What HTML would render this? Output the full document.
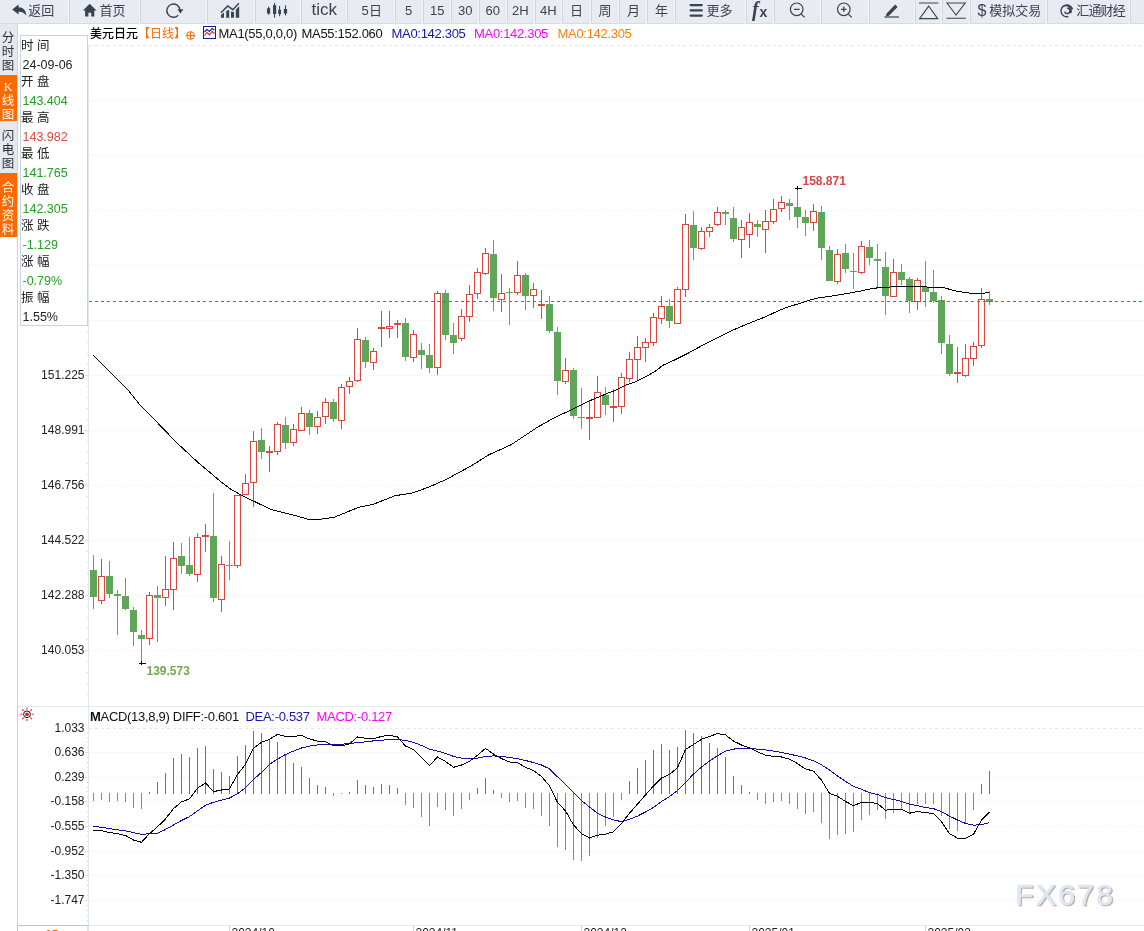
<!DOCTYPE html>
<html lang="zh"><head><meta charset="utf-8"><title>美元日元 日线</title>
<style>
html,body{margin:0;padding:0}
body{width:1144px;height:931px;position:relative;overflow:hidden;background:#fff;font-family:"Liberation Sans","Noto Sans CJK SC",sans-serif;color:#222}
#tb{position:absolute;left:0;top:0;width:1144px;height:23px;background:#e9ebf3;border-bottom:1px solid #d8dae3}
.t{position:absolute;top:0;height:23px;line-height:21px;color:#3a4350;white-space:nowrap}
.t.cn{font-size:13px}
.t.n{font-size:13px;line-height:22px}
.t.tk{font-size:17px;line-height:20px}
.t.fx1{font:italic bold 20px "Liberation Serif",serif;line-height:19px}
.t.fx2{font:bold 14px "Liberation Sans",sans-serif;line-height:25px}
.t.dl{font-size:16px;line-height:21px}
.sep{position:absolute;top:0;width:1px;height:23px;background:#d3d6df;box-shadow:-1px 0 0 #f2f3f8,-1px 1px 0 #f2f3f8}
#tabs div{position:absolute;left:0;width:17px;font-size:12.5px;line-height:14px;text-align:center;color:#2a2f3a;background:#e6e8ef;box-sizing:border-box;word-break:break-all;padding-left:1px;padding-right:2px}
#tabs div.on{background:#ff6a00;color:#fff}
#info{position:absolute;left:20px;top:35px;width:66px;height:289px;border:1px solid #c9d3df;background:#fff}
#info div{height:18px;line-height:18px;padding-left:0;white-space:nowrap}
#info .l{font-size:12.5px;color:#222;position:relative;top:1px}
#info .v{font-size:12.5px;padding-left:1.5px;position:relative;top:2px}
#info .g{color:#22a022} #info .r{color:#e0483f} #info .k{color:#222}
#ttl{position:absolute;left:0;top:25px;height:16px;width:700px;color:#111}
.q{position:absolute;top:0;height:16px;line-height:17px;font-size:12px;white-space:nowrap}
.q.e{font-size:13px;letter-spacing:-0.3px}
#mt{position:absolute;left:0;top:708px;height:16px;width:700px;color:#111}
svg text.ax{font:12px "Liberation Sans",sans-serif;text-anchor:end;fill:#222}
svg text.dt{font:12px "Liberation Sans",sans-serif;fill:#222}
svg text.hl{font:bold 12px "Liberation Sans",sans-serif}
svg text.wm{font:30px "Liberation Sans",sans-serif;letter-spacing:2.3px}
svg .grid{stroke:#e6e9ee;stroke-width:1;stroke-dasharray:1 2;shape-rendering:crispEdges}
</style></head><body>
<svg width="1144" height="931" viewBox="0 0 1144 931" style="position:absolute;left:0;top:0">
<line x1="89" y1="45.5" x2="1144" y2="45.5" stroke="#e3e8ee" stroke-width="1" stroke-dasharray="3 3" shape-rendering="crispEdges"/>
<line x1="89" y1="100.5" x2="1144" y2="100.5" class="grid"/>
<line x1="89" y1="155.5" x2="1144" y2="155.5" class="grid"/>
<line x1="89" y1="210.5" x2="1144" y2="210.5" class="grid"/>
<line x1="89" y1="265.5" x2="1144" y2="265.5" class="grid"/>
<line x1="89" y1="320.5" x2="1144" y2="320.5" class="grid"/>
<line x1="89" y1="375.5" x2="1144" y2="375.5" class="grid"/>
<line x1="89" y1="430.5" x2="1144" y2="430.5" class="grid"/>
<line x1="89" y1="485.5" x2="1144" y2="485.5" class="grid"/>
<line x1="89" y1="540.5" x2="1144" y2="540.5" class="grid"/>
<line x1="89" y1="595.5" x2="1144" y2="595.5" class="grid"/>
<line x1="89" y1="650.5" x2="1144" y2="650.5" class="grid"/>
<line x1="89" y1="728.5" x2="1144" y2="728.5" stroke="#e3e8ee" stroke-width="1" stroke-dasharray="3 3" shape-rendering="crispEdges"/>
<line x1="89" y1="752.5" x2="1144" y2="752.5" class="grid"/>
<line x1="89" y1="777.5" x2="1144" y2="777.5" class="grid"/>
<line x1="89" y1="801.5" x2="1144" y2="801.5" class="grid"/>
<line x1="89" y1="826.5" x2="1144" y2="826.5" class="grid"/>
<line x1="89" y1="851.5" x2="1144" y2="851.5" class="grid"/>
<line x1="89" y1="875.5" x2="1144" y2="875.5" class="grid"/>
<line x1="89" y1="900.5" x2="1144" y2="900.5" class="grid"/>
<line x1="17.5" y1="24" x2="17.5" y2="931" stroke="#cdd4df" stroke-width="1"/>
<line x1="88.5" y1="45" x2="88.5" y2="925" stroke="#e1e7ef" stroke-width="1"/>
<line x1="18" y1="706.5" x2="1144" y2="706.5" stroke="#e1e7ee" stroke-width="1"/>
<line x1="18" y1="925.5" x2="1144" y2="925.5" stroke="#e1e7ee" stroke-width="1"/>
<path d="M85 45.5H88M87 56.5H88M87 67.5H88M87 78.5H88M87 89.5H88M85 100.5H88M87 111.5H88M87 122.5H88M87 133.5H88M87 144.5H88M85 155.5H88M87 166.5H88M87 177.5H88M87 188.5H88M87 199.5H88M85 210.5H88M87 221.5H88M87 232.5H88M87 243.5H88M87 254.5H88M85 265.5H88M87 276.5H88M87 287.5H88M87 298.5H88M87 309.5H88M85 320.5H88M87 331.5H88M87 342.5H88M87 353.5H88M87 364.5H88M85 375.5H88M87 386.5H88M87 397.5H88M87 408.5H88M87 419.5H88M85 430.5H88M87 441.5H88M87 452.5H88M87 463.5H88M87 474.5H88M85 485.5H88M87 496.5H88M87 507.5H88M87 518.5H88M87 529.5H88M85 540.5H88M87 551.5H88M87 562.5H88M87 573.5H88M87 584.5H88M85 595.5H88M87 606.5H88M87 617.5H88M87 628.5H88M87 639.5H88M85 650.5H88M87 661.5H88M87 672.5H88M87 683.5H88M87 694.5H88M87 733.5H88M87 738.5H88M87 742.5H88M87 747.5H88M85 752.5H88M87 757.5H88M87 762.5H88M87 767.5H88M87 772.5H88M85 777.5H88M87 782.5H88M87 787.5H88M87 791.5H88M87 796.5H88M85 801.5H88M87 806.5H88M87 811.5H88M87 816.5H88M87 821.5H88M85 826.5H88M87 831.5H88M87 836.5H88M87 841.5H88M87 846.5H88M85 851.5H88M87 856.5H88M87 861.5H88M87 865.5H88M87 870.5H88M85 875.5H88M87 880.5H88M87 885.5H88M87 890.5H88M87 895.5H88M85 900.5H88M87 905.5H88M87 910.5H88M87 915.5H88M87 920.5H88" stroke="#d3dbe6" stroke-width="1" fill="none"/>
<line x1="229.5" y1="926" x2="229.5" y2="931" stroke="#cfd8e3" stroke-width="1"/>
<line x1="413.5" y1="926" x2="413.5" y2="931" stroke="#cfd8e3" stroke-width="1"/>
<line x1="581.5" y1="926" x2="581.5" y2="931" stroke="#cfd8e3" stroke-width="1"/>
<line x1="749.5" y1="926" x2="749.5" y2="931" stroke="#cfd8e3" stroke-width="1"/>
<line x1="925.5" y1="926" x2="925.5" y2="931" stroke="#cfd8e3" stroke-width="1"/>
<rect x="17.5" y="925.5" width="70.5" height="10" fill="#fff" stroke="#bcc7d6" stroke-width="1"/>
<g shape-rendering="crispEdges"><path d="M93.5 555V609M109.5 561V598M117.5 590V635M125.5 578V610M133.5 607V646M141.5 630V662M157.5 586V642M181.5 543V574M189.5 537V576M213.5 493V602M229.5 541V580M261.5 428V459M285.5 417V449M309.5 410V435M333.5 399V422M365.5 337V368M405.5 318V361M421.5 343V369M429.5 344V373M445.5 290V340M453.5 323V354M493.5 240V311M509.5 288V325M525.5 273V310M549.5 296V333M557.5 327V395M573.5 368V419M581.5 388V429M605.5 387V415M669.5 299V328M693.5 211V260M725.5 210V225M733.5 207V242M757.5 220V237M789.5 199V220M797.5 188V228M805.5 210V236M821.5 206V260M829.5 246V281M845.5 244V273M853.5 253V289M869.5 240V265M877.5 244V287M885.5 252V315M901.5 264V285M909.5 277V313M925.5 261V307M933.5 270V303M941.5 296V354M949.5 335V376M989.5 291V305" stroke="#5fa55a" stroke-width="1" fill="none"/><path d="M101.5 559V576M101.5 601V604M149.5 592V595M149.5 639V645M165.5 556V589M165.5 598V606M173.5 542V558M173.5 590V610M197.5 533V537M197.5 575V582M205.5 524V535M205.5 537V552M221.5 556V564M221.5 600V612M237.5 566V568M245.5 474V483M253.5 431V441M253.5 483V507M269.5 446V451M269.5 453V472M277.5 422V424M277.5 452V455M293.5 424V429M293.5 443V446M301.5 407V413M317.5 411V417M317.5 427V434M325.5 398V402M325.5 417V424M341.5 384V387M341.5 421V429M349.5 377V381M349.5 387V394M357.5 328V339M357.5 381V382M373.5 348V351M373.5 363V370M381.5 311V327M381.5 329V347M389.5 311V326M389.5 329V338M397.5 320V323M397.5 325V338M413.5 330V334M413.5 358V362M437.5 291V293M437.5 368V375M461.5 309V316M461.5 339V341M469.5 285V294M469.5 317V322M477.5 268V272M477.5 294V299M485.5 248V253M485.5 274V275M501.5 274V293M501.5 300V312M517.5 261V275M517.5 293V295M533.5 283V289M533.5 296V308M541.5 290V304M541.5 306V319M565.5 358V370M565.5 382V384M589.5 400V417M589.5 419V440M597.5 376V392M613.5 389V406M613.5 408V422M621.5 373V377M621.5 407V414M629.5 352V359M629.5 379V382M637.5 336V347M637.5 360V381M645.5 338V342M645.5 348V362M653.5 313V317M653.5 343V346M661.5 296V306M661.5 319V324M677.5 287V289M685.5 214V224M685.5 290V297M701.5 227V231M701.5 249V250M709.5 224V227M709.5 232V237M717.5 207V212M717.5 225V226M741.5 220V227M741.5 240V258M749.5 213V222M749.5 235V248M765.5 210V221M765.5 230V253M773.5 199V209M773.5 222V224M781.5 196V202M781.5 209V212M813.5 204V211M813.5 223V231M837.5 249V254M837.5 282V284M861.5 241V246M861.5 273V274M893.5 259V272M917.5 278V280M917.5 302V310M957.5 347V372M957.5 374V383M965.5 344V358M965.5 376V377M973.5 342V346M973.5 359V366M981.5 288V299M981.5 346V348" stroke="#d9463f" stroke-width="1" fill="none"/>
<g fill="#5fa55a"><rect x="90.0" y="570" width="7" height="27"/><rect x="106.0" y="576" width="7" height="18"/><rect x="114.0" y="594" width="7" height="2"/><rect x="122.0" y="596" width="7" height="13"/><rect x="130.0" y="610" width="7" height="22"/><rect x="138.0" y="635" width="7" height="4"/><rect x="154.0" y="595" width="7" height="3"/><rect x="178.0" y="556" width="7" height="10"/><rect x="186.0" y="565" width="7" height="9"/><rect x="210.0" y="536" width="7" height="62"/><rect x="226.0" y="565" width="7" height="1"/><rect x="258.0" y="440" width="7" height="12"/><rect x="282.0" y="425" width="7" height="18"/><rect x="306.0" y="413" width="7" height="14"/><rect x="330.0" y="402" width="7" height="17"/><rect x="362.0" y="340" width="7" height="22"/><rect x="402.0" y="323" width="7" height="34"/><rect x="418.0" y="350" width="7" height="5"/><rect x="426.0" y="355" width="7" height="13"/><rect x="442.0" y="293" width="7" height="42"/><rect x="450.0" y="335" width="7" height="8"/><rect x="490.0" y="254" width="7" height="44"/><rect x="506.0" y="292" width="7" height="1"/><rect x="522.0" y="275" width="7" height="21"/><rect x="546.0" y="304" width="7" height="27"/><rect x="554.0" y="332" width="7" height="49"/><rect x="570.0" y="370" width="7" height="46"/><rect x="578.0" y="417" width="7" height="1"/><rect x="602.0" y="395" width="7" height="10"/><rect x="666.0" y="306" width="7" height="15"/><rect x="690.0" y="225" width="7" height="23"/><rect x="722.0" y="212" width="7" height="2"/><rect x="730.0" y="218" width="7" height="21"/><rect x="754.0" y="224" width="7" height="3"/><rect x="786.0" y="203" width="7" height="3"/><rect x="794.0" y="207" width="7" height="10"/><rect x="802.0" y="217" width="7" height="6"/><rect x="818.0" y="212" width="7" height="36"/><rect x="826.0" y="250" width="7" height="31"/><rect x="842.0" y="253" width="7" height="16"/><rect x="850.0" y="271" width="7" height="1"/><rect x="866.0" y="247" width="7" height="11"/><rect x="874.0" y="259" width="7" height="2"/><rect x="882.0" y="267" width="7" height="29"/><rect x="898.0" y="272" width="7" height="8"/><rect x="906.0" y="279" width="7" height="22"/><rect x="922.0" y="287" width="7" height="5"/><rect x="930.0" y="292" width="7" height="9"/><rect x="938.0" y="300" width="7" height="43"/><rect x="946.0" y="344" width="7" height="30"/><rect x="986.0" y="299" width="7" height="3"/></g><g fill="#fff" stroke="#d9463f" stroke-width="1"><rect x="98.5" y="576.5" width="6" height="24"/><rect x="146.5" y="595.5" width="6" height="43"/><rect x="162.5" y="589.5" width="6" height="8"/><rect x="170.5" y="558.5" width="6" height="31"/><rect x="194.5" y="537.5" width="6" height="37"/><rect x="202.0" y="535" width="7" height="2" fill="#d9463f" stroke="none"/><rect x="218.5" y="564.5" width="6" height="35"/><rect x="234.5" y="495.5" width="6" height="70"/><rect x="242.5" y="483.5" width="6" height="11"/><rect x="250.5" y="441.5" width="6" height="41"/><rect x="266.0" y="451" width="7" height="2" fill="#d9463f" stroke="none"/><rect x="274.5" y="424.5" width="6" height="27"/><rect x="290.5" y="429.5" width="6" height="13"/><rect x="298.5" y="413.5" width="6" height="17"/><rect x="314.5" y="417.5" width="6" height="9"/><rect x="322.5" y="402.5" width="6" height="14"/><rect x="338.5" y="387.5" width="6" height="33"/><rect x="346.5" y="381.5" width="6" height="5"/><rect x="354.5" y="339.5" width="6" height="41"/><rect x="370.5" y="351.5" width="6" height="11"/><rect x="378.0" y="327" width="7" height="2" fill="#d9463f" stroke="none"/><rect x="386.5" y="326.5" width="6" height="2"/><rect x="394.0" y="323" width="7" height="2" fill="#d9463f" stroke="none"/><rect x="410.5" y="334.5" width="6" height="23"/><rect x="434.5" y="293.5" width="6" height="74"/><rect x="458.5" y="316.5" width="6" height="22"/><rect x="466.5" y="294.5" width="6" height="22"/><rect x="474.5" y="272.5" width="6" height="21"/><rect x="482.5" y="253.5" width="6" height="20"/><rect x="498.5" y="293.5" width="6" height="6"/><rect x="514.5" y="275.5" width="6" height="17"/><rect x="530.5" y="289.5" width="6" height="6"/><rect x="538.0" y="304" width="7" height="2" fill="#d9463f" stroke="none"/><rect x="562.5" y="370.5" width="6" height="11"/><rect x="586.0" y="417" width="7" height="2" fill="#d9463f" stroke="none"/><rect x="594.5" y="392.5" width="6" height="25"/><rect x="610.0" y="406" width="7" height="2" fill="#d9463f" stroke="none"/><rect x="618.5" y="377.5" width="6" height="29"/><rect x="626.5" y="359.5" width="6" height="19"/><rect x="634.5" y="347.5" width="6" height="12"/><rect x="642.5" y="342.5" width="6" height="5"/><rect x="650.5" y="317.5" width="6" height="25"/><rect x="658.5" y="306.5" width="6" height="12"/><rect x="674.5" y="289.5" width="6" height="34"/><rect x="682.5" y="224.5" width="6" height="65"/><rect x="698.5" y="231.5" width="6" height="17"/><rect x="706.5" y="227.5" width="6" height="4"/><rect x="714.5" y="212.5" width="6" height="12"/><rect x="738.5" y="227.5" width="6" height="12"/><rect x="746.5" y="222.5" width="6" height="12"/><rect x="762.5" y="221.5" width="6" height="8"/><rect x="770.5" y="209.5" width="6" height="12"/><rect x="778.5" y="202.5" width="6" height="6"/><rect x="810.5" y="211.5" width="6" height="11"/><rect x="834.5" y="254.5" width="6" height="27"/><rect x="858.5" y="246.5" width="6" height="26"/><rect x="890.5" y="272.5" width="6" height="24"/><rect x="914.5" y="280.5" width="6" height="21"/><rect x="954.0" y="372" width="7" height="2" fill="#d9463f" stroke="none"/><rect x="962.5" y="358.5" width="6" height="17"/><rect x="970.5" y="346.5" width="6" height="12"/><rect x="978.5" y="299.5" width="6" height="46"/></g></g>
<line x1="89" y1="301.5" x2="1144" y2="301.5" stroke="#0a84ff" stroke-width="1" stroke-dasharray="3 3" shape-rendering="crispEdges"/>
<polyline points="93.0,354.7 108.1,370.1 128.2,390.2 140.3,405.3 153.3,418.4 176.5,442.5 198.6,463.0 208.6,471.3 220.7,481.7 230.7,489.2 240.8,494.8 252.9,500.8 271.0,509.5 289.0,513.9 309.2,519.5 320.9,519.1 334.0,517.4 358.1,507.5 373.4,504.2 395.2,495.7 412.7,492.9 428.0,487.4 445.5,479.8 471.7,465.6 489.2,454.6 511.0,444.8 537.3,427.3 550.0,420.2 560.0,414.9 571.0,410.2 590.3,400.5 609.7,392.4 614.5,390.8 625.8,385.2 637.1,381.1 646.8,376.3 654.8,371.5 662.9,365.3 675.8,359.4 688.7,352.9 700.0,346.7 716.1,338.5 732.2,330.4 748.3,323.6 764.5,317.2 780.6,309.8 790.2,306.2 799.9,303.5 808.0,300.5 819.2,297.7 828.9,296.5 841.8,294.4 860.0,291.2 870.8,288.8 883.0,287.1 911.6,286.7 942.2,287.3 956.5,291.2 970.8,293.3 983.0,293.5 989.4,292.2" fill="none" stroke="#000" stroke-width="1" shape-rendering="crispEdges"/>
<path d="M795 188.5H802M797.5 186V190" stroke="#000" stroke-width="1" fill="none" shape-rendering="crispEdges"/>
<path d="M139 663.5H146M141.5 661V665" stroke="#000" stroke-width="1" fill="none" shape-rendering="crispEdges"/>
<text x="802.5" y="185" class="hl" fill="#dc4446">158.871</text>
<text x="146.5" y="675" class="hl" fill="#74a750">139.573</text>
<g shape-rendering="crispEdges"><path d="M93.5 793V801M101.5 793V800M109.5 793V802M117.5 793V801M125.5 793V802M133.5 793V808M141.5 793V809M333.5 793V796M341.5 793V794M405.5 793V805M413.5 793V808M421.5 793V817M429.5 793V826M437.5 793V807M445.5 793V810M453.5 793V816M461.5 793V809M469.5 793V800M501.5 793V798M509.5 793V802M517.5 793V801M525.5 793V808M533.5 793V809M541.5 793V816M549.5 793V826M557.5 793V847M565.5 793V850M573.5 793V860M581.5 793V861M589.5 793V856M597.5 793V838M605.5 793V826M613.5 793V817M621.5 793V800M757.5 793V800M765.5 793V804M773.5 793V802M781.5 793V801M789.5 793V804M797.5 793V809M805.5 793V814M813.5 793V812M821.5 793V823M829.5 793V839M837.5 793V835M845.5 793V834M853.5 793V832M861.5 793V820M869.5 793V815M877.5 793V810M885.5 793V819M893.5 793V813M901.5 793V809M909.5 793V813M917.5 793V804M925.5 793V804M933.5 793V804M941.5 793V816M949.5 793V829M957.5 793V831M965.5 793V823M973.5 793V810" stroke="#5fa55a" stroke-width="1" fill="none"/><path d="M149.5 792V794M157.5 782V794M165.5 773V794M173.5 758V794M181.5 754V794M189.5 757V794M197.5 748V794M205.5 746V794M213.5 769V794M221.5 772V794M229.5 776V794M237.5 756V794M245.5 745V794M253.5 731V794M261.5 733V794M269.5 739V794M277.5 742V794M285.5 755V794M293.5 763V794M301.5 767V794M309.5 778V794M317.5 785V794M325.5 787V794M349.5 792V794M357.5 780V794M365.5 785V794M373.5 787V794M381.5 784V794M389.5 785V794M397.5 788V794M477.5 788V794M485.5 778V794M493.5 790V794M629.5 781V794M637.5 768V794M645.5 760V794M653.5 750V794M661.5 744V794M669.5 750V794M677.5 747V794M685.5 730V794M693.5 733V794M701.5 736V794M709.5 743V794M717.5 748V794M725.5 757V794M733.5 776V794M741.5 785V794M749.5 792V794M981.5 784V794M989.5 771V794" stroke="#d9463f" stroke-width="1" fill="none"/></g>
<polyline points="93.5,826.1 109.5,828.6 125.5,830.9 141.5,834.3 157.5,833.2 165.5,829.5 181.5,820.5 189.5,816.6 205.5,805.2 213.5,802.3 229.5,798.0 237.5,793.9 245.5,787.7 253.5,779.5 261.5,772.3 269.5,764.3 277.5,759.1 285.5,754.5 293.5,751.1 301.5,748.0 309.5,746.1 317.5,745.0 325.5,744.3 333.5,744.1 341.5,744.3 357.5,742.7 373.5,740.9 389.5,739.5 397.5,739.5 405.5,740.5 413.5,742.3 421.5,745.5 429.5,749.1 437.5,751.1 445.5,753.4 453.5,756.4 461.5,758.2 469.5,758.6 477.5,758.2 485.5,756.4 493.5,755.9 501.5,756.4 509.5,757.5 517.5,758.6 525.5,760.5 533.5,762.5 541.5,765.0 549.5,768.9 557.5,776.8 565.5,784.8 573.5,792.7 581.5,800.7 589.5,807.0 597.5,813.2 605.5,817.0 613.5,820.0 621.5,821.6 629.5,819.3 637.5,816.1 645.5,812.0 653.5,807.5 661.5,801.4 669.5,796.6 677.5,790.5 685.5,782.5 693.5,774.1 701.5,767.0 709.5,760.9 717.5,755.7 725.5,751.1 733.5,749.1 741.5,748.4 749.5,748.4 757.5,749.1 765.5,750.0 773.5,751.1 781.5,752.5 789.5,754.1 797.5,755.9 805.5,758.0 813.5,760.9 821.5,764.8 829.5,770.0 837.5,776.0 845.5,781.4 853.5,786.4 861.5,789.3 869.5,792.7 877.5,794.5 885.5,797.7 893.5,799.5 901.5,801.4 909.5,804.1 917.5,805.7 925.5,807.5 933.5,808.6 941.5,811.6 949.5,816.1 957.5,820.0 965.5,823.4 973.5,825.2 981.5,824.5 989.5,822.7" fill="none" stroke="#1010a8" stroke-width="1" shape-rendering="crispEdges"/>
<polyline points="93.5,830.2 101.5,830.7 109.5,832.5 117.5,833.6 125.5,835.5 133.5,840.0 141.5,842.3 149.5,833.6 157.5,826.8 165.5,818.9 173.5,808.6 181.5,801.8 189.5,798.9 197.5,788.2 205.5,783.0 213.5,791.6 221.5,790.0 229.5,788.9 237.5,774.5 245.5,764.3 253.5,748.4 261.5,742.3 269.5,739.3 277.5,734.3 285.5,736.4 293.5,736.4 301.5,735.5 309.5,738.9 317.5,741.1 325.5,741.6 333.5,745.7 341.5,745.7 349.5,743.9 357.5,737.0 365.5,738.2 373.5,738.9 381.5,736.4 389.5,735.2 397.5,737.0 405.5,746.1 413.5,749.5 421.5,757.5 429.5,765.5 437.5,757.0 445.5,761.4 453.5,767.3 461.5,765.0 469.5,761.4 477.5,755.2 485.5,748.4 493.5,754.1 501.5,758.6 509.5,762.0 517.5,762.7 525.5,767.3 533.5,770.5 541.5,776.4 549.5,785.9 557.5,802.5 565.5,810.9 573.5,825.0 581.5,833.6 589.5,838.0 597.5,835.2 605.5,834.1 613.5,831.8 621.5,823.4 629.5,813.2 637.5,804.1 645.5,795.0 653.5,785.9 661.5,778.0 669.5,774.5 677.5,767.7 685.5,749.5 693.5,744.5 701.5,739.3 709.5,736.4 717.5,733.6 725.5,734.8 733.5,741.1 741.5,745.0 749.5,748.0 757.5,751.8 765.5,755.2 773.5,756.4 781.5,757.0 789.5,759.1 797.5,763.6 805.5,768.9 813.5,771.1 821.5,780.2 829.5,793.4 837.5,796.3 845.5,801.4 853.5,805.7 861.5,802.3 869.5,802.3 877.5,803.6 885.5,810.2 893.5,809.3 901.5,809.3 909.5,813.2 917.5,811.6 925.5,812.5 933.5,813.6 941.5,821.6 949.5,833.6 957.5,838.2 965.5,838.2 973.5,834.3 981.5,820.0 989.5,812.0" fill="none" stroke="#000" stroke-width="1" shape-rendering="crispEdges"/>
<text x="84.5" y="379.3" class="ax">151.225</text>
<text x="84.5" y="434.3" class="ax">148.991</text>
<text x="84.5" y="489.3" class="ax">146.756</text>
<text x="84.5" y="544.3" class="ax">144.522</text>
<text x="84.5" y="599.3" class="ax">142.288</text>
<text x="84.5" y="654.3" class="ax">140.053</text>
<text x="84.5" y="732.3" class="ax">1.033</text>
<text x="84.5" y="756.3" class="ax">0.636</text>
<text x="84.5" y="781.3" class="ax">0.239</text>
<text x="84.5" y="805.3" class="ax">-0.158</text>
<text x="84.5" y="830.3" class="ax">-0.555</text>
<text x="84.5" y="855.3" class="ax">-0.952</text>
<text x="84.5" y="879.3" class="ax">-1.350</text>
<text x="84.5" y="904.3" class="ax">-1.747</text>
<text x="231.5" y="936.5" class="dt">2024/10</text>
<text x="415.5" y="936.5" class="dt">2024/11</text>
<text x="583.5" y="936.5" class="dt">2024/12</text>
<text x="751.5" y="936.5" class="dt">2025/01</text>
<text x="927.5" y="936.5" class="dt">2025/02</text>
<text x="45" y="939" style="font:bold 12px 'Liberation Sans',sans-serif" fill="#f60">15</text>
<g fill="none"><circle cx="27" cy="714.3" r="3.4" stroke="#111" stroke-width="1"/><circle cx="27" cy="714.3" r="1.9" fill="#f01818"/><path d="M27 707.6v2M27 719v2M20.3 714.3h2M31.7 714.3h2M22.1 709.4l1.5 1.5M30.4 717.7l1.5 1.5M22.1 719.2l1.5-1.5M30.4 710.9l1.5-1.5" stroke="#f01818" stroke-width="1.1"/></g>
<text x="1015.3" y="904.8" class="wm" fill="#c0a594" stroke="#c0a594" stroke-width="0.5" transform="translate(1.3,1.3)">FX678</text>
<text x="1015.3" y="904.8" class="wm" fill="#dce8f6" stroke="#dce8f6" stroke-width="0.7">FX678</text>
</svg>
<div id="tb">
<svg width="1144" height="24" viewBox="0 0 1144 24" style="position:absolute;left:0;top:0">
<g fill="#3a4350" stroke="none">
<path d="M12.2 9.5L18.6 4.5V7.3C23 7.3 26.2 10.2 26.2 15.8C24.6 12.8 22.4 11.7 18.6 11.7V14.5Z"/>
<path d="M89.7 3.7L82.9 10.5H85.1V16.5H88.4V12.7H91.2V16.5H94.3V10.5H96.5Z"/>
<path d="M177.4 9.2H183.4L180.4 13.4Z"/>
<path d="M221 14.8L224 12.4V17.8H221ZM226.2 10.9L229.2 9.7V17.8H226.2ZM231 11.6L234 11.9V17.8H231ZM235.8 9.7L239.2 6.2V17.8H235.8Z"/>
<path d="M267 8.2h3.2v5.2H267zM273 5.2h3.2v8.9H273zM278.2 9.7h2.8v4.4h-2.8zM283.8 8.9h3.3v4.5h-3.3z"/>
<path d="M886.6 13.6L895.2 4.6L897.6 6.9L889 15.8L885.8 16.4Z"/>
</g>
<g fill="none" stroke="#3a4350">
<path d="M178.2 15.2A6.6 6.6 0 1 1 180 10.2" stroke-width="1.4"/>
<path d="M221 12.8L227.7 5.9L232.9 9.7L238.9 3.2" stroke-width="1.5"/>
<path d="M268.6 6.8v8M274.6 3v14.8M279.6 5.9v10.4M285.5 5.2v10.4" stroke-width="1.1"/>
<path d="M690.6 5.1h11.2M690.6 10.4h11.2M690.6 15.6h11.2" stroke-width="2.2" stroke-linecap="round"/>
<circle cx="796.7" cy="9.3" r="6.3" stroke-width="1.2"/><path d="M794 9.3h5.6M801.3 14.1L804.6 17.4" stroke-width="1.3"/>
<circle cx="843.8" cy="9.3" r="6.3" stroke-width="1.2"/><path d="M841 9.3h5.6M843.8 6.5v5.6M848.4 14.1L851.7 17.4" stroke-width="1.3"/>
<path d="M884.4 17h14.6" stroke-width="1.2"/>
<path d="M919 3h19.4M928.7 6.2L919.6 18.6H937.8Z" stroke-width="1.1"/>
<path d="M946.4 18.2h19.4M956 15L947 3H965.2Z" stroke-width="1.1"/>
<path d="M1072.6 9.4A5.9 5.9 0 1 0 1068.4 16.6M1063.4 6.4A5.2 5.2 0 0 1 1070.6 13.2M1066.9 8.2A2.7 2.7 0 1 1 1064.6 11.6" stroke-width="1.4"/>
</g></svg>
<span class="t cn" style="left:28.3px;">返回</span>
<span class="t cn" style="left:99.5px;">首页</span>
<span class="t tk" style="left:311.5px;">tick</span>
<span class="t n" style="left:361.5px;">5</span>
<span class="t cn" style="left:369px;">日</span>
<span class="t n" style="left:405px;">5</span>
<span class="t n" style="left:430px;">15</span>
<span class="t n" style="left:458px;">30</span>
<span class="t n" style="left:485.5px;">60</span>
<span class="t n" style="left:512px;">2H</span>
<span class="t n" style="left:540px;">4H</span>
<span class="t cn" style="left:570px;">日</span>
<span class="t cn" style="left:598.5px;">周</span>
<span class="t cn" style="left:627px;">月</span>
<span class="t cn" style="left:655px;">年</span>
<span class="t cn" style="left:706.5px;">更多</span>
<span class="t fx1" style="left:752px;">f</span>
<span class="t fx2" style="left:759.5px;">x</span>
<span class="t dl" style="left:977.5px;">$</span>
<span class="t cn" style="left:989.3px;">模拟交易</span>
<span class="t cn" style="left:1076.2px;letter-spacing:-0.8px">汇通财经</span>
<div class="sep" style="left:69px"></div>
<div class="sep" style="left:140px"></div>
<div class="sep" style="left:207px"></div>
<div class="sep" style="left:255px"></div>
<div class="sep" style="left:301px"></div>
<div class="sep" style="left:347px"></div>
<div class="sep" style="left:395px"></div>
<div class="sep" style="left:423px"></div>
<div class="sep" style="left:451px"></div>
<div class="sep" style="left:479px"></div>
<div class="sep" style="left:507px"></div>
<div class="sep" style="left:535px"></div>
<div class="sep" style="left:562px"></div>
<div class="sep" style="left:591px"></div>
<div class="sep" style="left:619px"></div>
<div class="sep" style="left:647px"></div>
<div class="sep" style="left:675px"></div>
<div class="sep" style="left:746px"></div>
<div class="sep" style="left:774px"></div>
<div class="sep" style="left:821px"></div>
<div class="sep" style="left:869px"></div>
<div class="sep" style="left:915px"></div>
<div class="sep" style="left:942px"></div>
<div class="sep" style="left:970px"></div>
<div class="sep" style="left:1047px"></div>
<div class="sep" style="left:1130px"></div>
</div>
<div id="tabs"><div style="top:24px;height:51px;padding-top:6.8px">分时图</div><div class="on" style="top:75px;height:46px;padding-top:4.7px"><span style="font-family:'Liberation Serif',serif;font-size:12px">K</span>线图</div><div style="top:121px;height:52px;padding-top:8px">闪电图</div><div class="on" style="top:173px;height:64px;padding-top:8px">合约资料</div></div>
<div id="info"><div class="l">时 间</div><div class="v k">24-09-06</div><div class="l">开 盘</div><div class="v g">143.404</div><div class="l">最 高</div><div class="v r">143.982</div><div class="l">最 低</div><div class="v g">141.765</div><div class="l">收 盘</div><div class="v g">142.305</div><div class="l">涨 跌</div><div class="v g">-1.129</div><div class="l">涨 幅</div><div class="v g">-0.79%</div><div class="l">振 幅</div><div class="v k">1.55%</div></div>
<div id="ttl"><span class="q" style="left:90px;font-weight:500;color:#000;top:1.3px">美元日元</span><span class="q" style="left:138px;color:#ff6a00;top:1.3px">【日线】</span><svg width="11" height="11" viewBox="0 0 11 11" style="position:absolute;left:185.2px;top:4.8px"><circle cx="5.5" cy="5.5" r="3.9" fill="none" stroke="#ff6a00" stroke-width="1"/><path d="M1.6 5.5h7.8M5.5 1.6v7.8" stroke="#ff6a00" stroke-width="1"/></svg><svg width="13" height="13" viewBox="0 0 13 13" style="position:absolute;left:203px;top:1px"><rect x="0.5" y="0.5" width="12" height="12" fill="#fff" stroke="#1a1a9a"/><path d="M1.5 9.5L4 6.5l2.5 2.5L9 5.5l2.5 2" stroke="#e02020" fill="none" stroke-width="1.1"/><path d="M1.5 6L4 3.5l2.5 2L9 2.5l2.5 1.5" stroke="#1a1a9a" fill="none" stroke-width="1.1"/></svg><span class="q e" style="left:218.5px">MA1(55,0,0,0)</span><span class="q e" style="left:301.5px">MA55:152.060</span><span class="q e" style="left:391.5px;color:#1414b4">MA0:142.305</span><span class="q e" style="left:474px;color:#ff00ff">MA0:142.305</span><span class="q e" style="left:557.5px;color:#ff8000">MA0:142.305</span></div>
<div id="mt"><span class="q e" style="left:90px"><b>M</b>ACD(13,8,9) DIFF:-0.601</span><span class="q e" style="left:245.5px;color:#1414b4">DEA:-0.537</span><span class="q e" style="left:316.5px;color:#ff00ff">MACD:-0.127</span></div>
</body></html>
